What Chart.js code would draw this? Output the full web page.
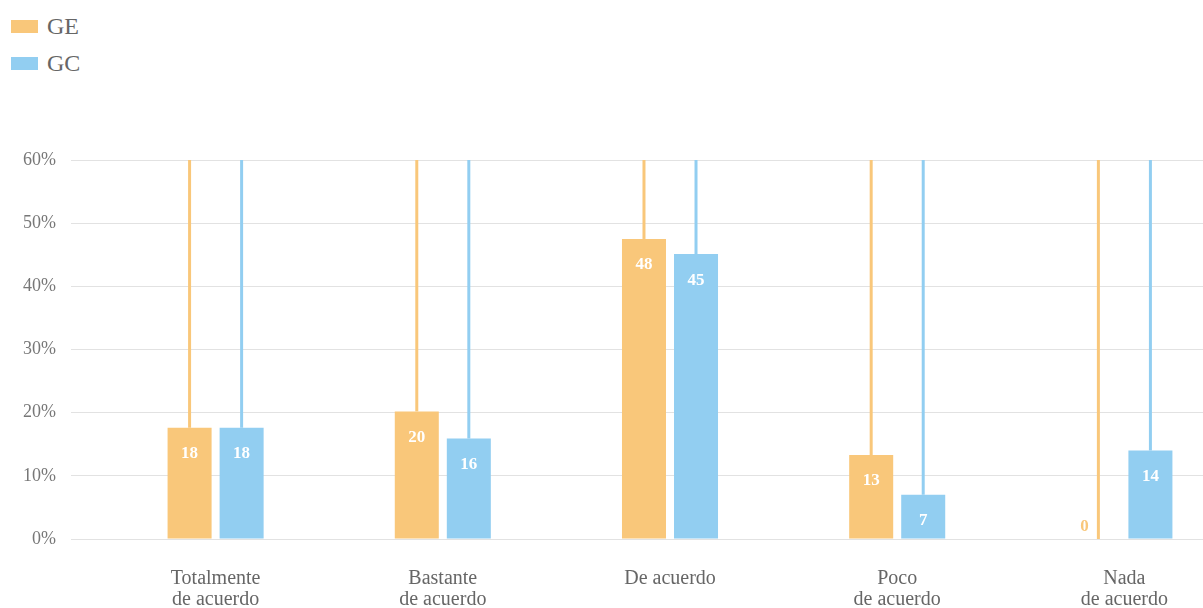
<!DOCTYPE html>
<html>
<head>
<meta charset="utf-8">
<script src="https://cdn.jsdelivr.net/npm/chart.js@4"></script>
<style>
  html, body { margin: 0; padding: 0; background: #fff; overflow: hidden; width: 1203px; height: 608px; }
  #wrap { position: absolute; left: 0; top: 0; width: 1238px; height: 639px; }
  #legend { position: absolute; left: 11px; top: 0; font-family: "Liberation Serif", serif; font-size: 24px; color: #666; }
  .item { position: absolute; left: 0; height: 20px; display: flex; align-items: center; white-space: nowrap; }
  .box { width: 27px; height: 13px; margin-right: 9px; }
</style>
</head>
<body>
<div id="legend"></div>
<div id="wrap"><canvas id="chart"></canvas></div>
<script>
const categories = [['Totalmente', 'de acuerdo'], ['Bastante', 'de acuerdo'], 'De acuerdo', ['Poco', 'de acuerdo'], ['Nada', 'de acuerdo']];
const seriesNames = ['GE', 'GC'];
const geValues = [17.6, 20.2, 47.5, 13.3, 0];
const gcValues = [17.6, 15.9, 45.1, 7.0, 14.0];
const colors = ['#F9C77A', '#92CEF1'];
const yTicks = [0, 10, 20, 30, 40, 50, 60];

// html legend, one row per series
const legendEl = document.getElementById('legend');
seriesNames.forEach((name, i) => {
    const row = document.createElement('div');
    row.className = 'item';
    row.style.top = (16 + i * 37) + 'px';
    row.innerHTML = `<span class="box" style="background:${colors[i]}"></span><span>${name}</span>`;
    legendEl.appendChild(row);
});

// thin line from top of each bar up to the top of the chart area + value labels
const barDecor = {
    id: 'barDecor',
    beforeDatasetsDraw(chart) {
        const ctx = chart.ctx, top = chart.chartArea.top;
        chart.data.datasets.forEach((ds, di) => {
            chart.getDatasetMeta(di).data.forEach(bar => {
                ctx.save();
                ctx.strokeStyle = ds.backgroundColor;
                ctx.lineWidth = 3;
                ctx.beginPath();
                ctx.moveTo(bar.x, bar.y);
                ctx.lineTo(bar.x, top);
                ctx.stroke();
                ctx.restore();
            });
        });
    },
    afterDatasetsDraw(chart) {
        const ctx = chart.ctx;
        chart.data.datasets.forEach((ds, di) => {
            chart.getDatasetMeta(di).data.forEach((bar, i) => {
                const v = ds.data[i];
                ctx.save();
                ctx.font = 'bold 17px "Liberation Serif", serif';
                ctx.textAlign = 'center';
                ctx.textBaseline = 'middle';
                if (v > 0) {
                    ctx.fillStyle = '#fff';
                    ctx.fillText(Math.round(v), bar.x, bar.y + 26);
                } else {
                    ctx.fillStyle = ds.backgroundColor;
                    ctx.fillText(Math.round(v), bar.x - 14, bar.y - 12);
                }
                ctx.restore();
            });
        });
    }
};

new Chart(document.getElementById('chart').getContext('2d'), {
    type: 'bar',
    data: {
        labels: categories,
        datasets: [
            { label: seriesNames[0], data: geValues, backgroundColor: colors[0] },
            { label: seriesNames[1], data: gcValues, backgroundColor: colors[1] }
        ]
    },
    options: {
        responsive: true, maintainAspectRatio: false, animation: false,
        categoryPercentage: 0.458, barPercentage: 0.846,
        layout: { padding: { top: 160, left: 23, right: 0, bottom: 0 } },
        plugins: { legend: { display: false }, tooltip: { enabled: false } },
        scales: {
            x: {
                grid: { display: false, drawTicks: false },
                border: { display: false },
                ticks: { color: '#666', padding: 29, font: { family: '"Liberation Serif", serif', size: 20, lineHeight: 1.05 }, maxRotation: 0, autoSkip: false }
            },
            y: {
                min: yTicks[0], max: yTicks[yTicks.length - 1],
                afterFit: s => { s.width = 79; },
                afterBuildTicks: s => { s.ticks = yTicks.map(v => ({ value: v })); },
                grid: { color: '#e2e2e2', lineWidth: 1, tickLength: 31, drawTicks: true },
                border: { display: false },
                ticks: { color: '#777', padding: 15, font: { family: '"Liberation Serif", serif', size: 18 }, callback: v => v + '%' }
            }
        }
    },
    plugins: [barDecor]
});
</script>
</body>
</html>
